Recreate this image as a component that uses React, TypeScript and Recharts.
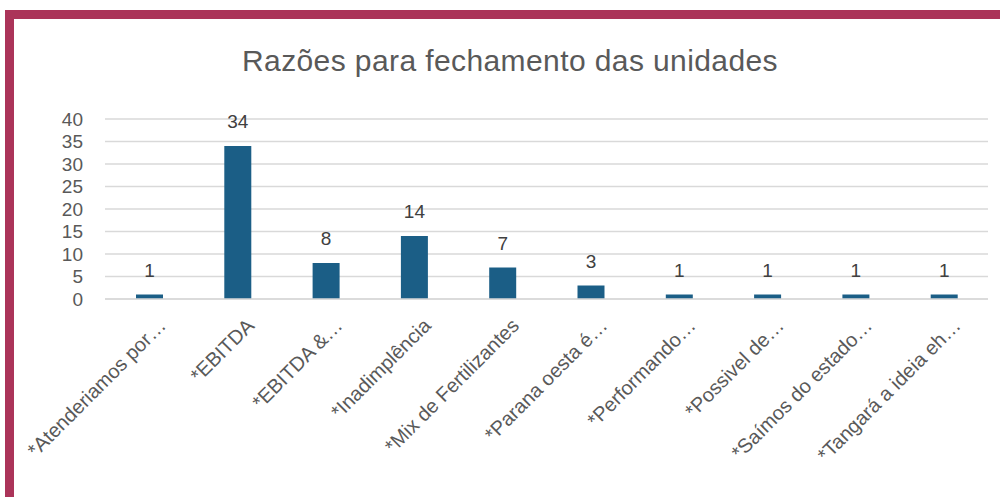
import { BarChart, Bar, XAxis, YAxis, CartesianGrid, LabelList } from 'recharts'

// ─── dados ──────────────────────────────────
const categories = [
  '*Atenderiamos por…',
  '*EBITDA',
  '*EBITDA &…',
  '*Inadimplência',
  '*Mix de Fertilizantes',
  '*Parana oesta é…',
  '*Performando…',
  '*Possivel de…',
  '*Saímos do estado…',
  '*Tangará a ideia eh…',
]
const counts = [1, 34, 8, 14, 7, 3, 1, 1, 1, 1]
const yTicks = [0, 5, 10, 15, 20, 25, 30, 35, 40]

const data = categories.map((name, i) => ({ name, count: counts[i] }))

const FONT = '"Liberation Sans", Arial, sans-serif'
const BAR = '#1B5E86'
const MAROON = '#AB3459'

function SlantTick(props: any) {
  const { x, y, payload } = props
  return (
    <g transform={`translate(${x + 13},${y + 15}) rotate(-45)`}>
      <text x={0} y={0} dy="0.35em" textAnchor="end" fill="#595959" fontSize={20} fontFamily={FONT}>
        {payload.value}
      </text>
    </g>
  )
}

export default function App() {
  return (
    <div
      style={{
        position: 'absolute',
        left: 0,
        top: 0,
        width: 1000,
        height: 497,
        background: '#fff',
        overflow: 'hidden',
      }}
    >
      <div style={{ position: 'absolute', left: 5, top: 10, width: 995, height: 9, background: MAROON }} />
      <div style={{ position: 'absolute', left: 5, top: 10, width: 9, height: 487, background: MAROON }} />
      <div
        style={{
          position: 'absolute',
          left: 0,
          top: 43,
          width: 1020,
          textAlign: 'center',
          fontFamily: FONT,
          fontSize: 30,
          letterSpacing: 0.4,
          color: '#595959',
          lineHeight: '36px',
        }}
      >
        Razões para fechamento das unidades
      </div>
      <div style={{ position: 'absolute', left: 0, top: 0 }}>
        <BarChart
          width={1000}
          height={497}
          data={data}
          margin={{ top: 119, right: 12, left: 0, bottom: 0 }}
        >
          <CartesianGrid vertical={false} stroke="#D9D9D9" strokeWidth={1.5} />
          <XAxis
            dataKey="name"
            interval={0}
            height={198}
            tick={<SlantTick />}
            tickLine={false}
            axisLine={{ stroke: '#D9D9D9', strokeWidth: 1.5 }}
          />
          <YAxis
            domain={[0, 40]}
            ticks={yTicks}
            interval={0}
            width={105}
            axisLine={false}
            tickLine={false}
            tickMargin={16}
            tick={{ fill: '#595959', fontSize: 19, fontFamily: FONT }}
          />
          <Bar dataKey="count" fill={BAR} barSize={27} isAnimationActive={false}>
            <LabelList
              dataKey="count"
              position="top"
              offset={18}
              fill="#404040"
              fontSize={19}
              fontFamily={FONT}
            />
          </Bar>
        </BarChart>
      </div>
    </div>
  )
}
